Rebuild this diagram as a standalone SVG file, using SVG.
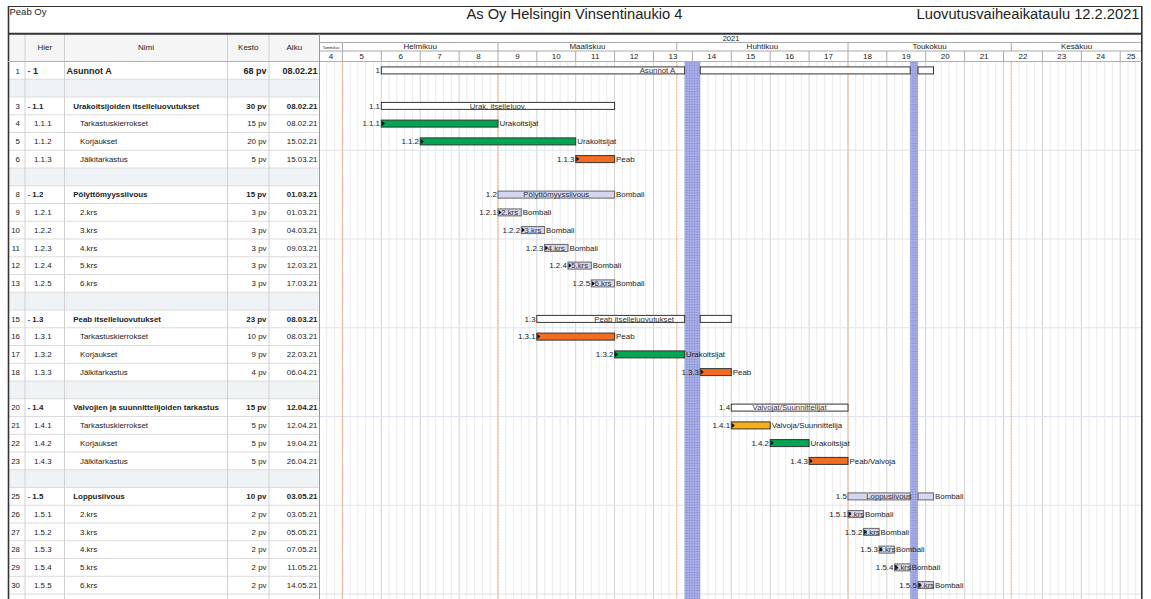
<svg xmlns="http://www.w3.org/2000/svg" width="1151" height="599" viewBox="0 0 1151 599">
<defs>
<pattern id="hol" patternUnits="userSpaceOnUse" width="2.6" height="2.6">
<rect width="2.6" height="2.6" fill="#b1b7ea"/>
<path d="M0 0.5H2.6M0.5 0V2.6" stroke="#8c95db" stroke-width="0.8"/>
</pattern>
<style>
text{font-family:"Liberation Sans",Arial,sans-serif;fill:#222}
.t{font-size:7.9px}
.tb{font-size:7.9px;font-weight:bold}
.t1{font-size:9px;font-weight:bold}
.e{text-anchor:end}
.m{text-anchor:middle}
.in{font-size:7.8px;fill:#333;text-anchor:middle}
.hd{font-size:8px;text-anchor:middle}
.sum{fill:#fff;stroke:#333;stroke-width:1}
.lav{fill:#d4d7ee;stroke:#666;stroke-width:1}
.grn{fill:#00a651;stroke:#333;stroke-width:1}
.org{fill:#f26d21;stroke:#333;stroke-width:1}
.yel{fill:#f8b019;stroke:#333;stroke-width:1}
.tri{fill:#111}
.dash{fill:#2a4fd0}
</style>
</defs>
<rect width="1151" height="599" fill="#fff"/>

<!-- title -->
<g id="title">
<text x="9.5" y="15" style="font-size:9.5px">Peab Oy</text>
<text x="574.5" y="19" class="m" style="font-size:14.7px">As Oy Helsingin Vinsentinaukio 4</text>
<text x="1139.5" y="19" class="e" style="font-size:14.7px">Luovutusvaiheaikataulu 12.2.2021</text>
</g>

<!-- table background -->
<g id="table-grid">
<rect x="8" y="34" width="311.5" height="27.5" fill="#f5f5f5"/>
<g fill="#f0f3f6">
<rect x="8" y="79.25" width="311.5" height="17.75"/>
<rect x="8" y="168" width="311.5" height="17.75"/>
<rect x="8" y="292.25" width="311.5" height="17.75"/>
<rect x="8" y="381" width="311.5" height="17.75"/>
<rect x="8" y="469.75" width="311.5" height="17.75"/>
</g>
<path d="M8 79.25H319.5M8 97H319.5M8 114.75H319.5M8 132.5H319.5M8 150.25H319.5M8 168H319.5M8 185.75H319.5M8 203.5H319.5M8 221.25H319.5M8 239H319.5M8 256.75H319.5M8 274.5H319.5M8 292.25H319.5M8 310H319.5M8 327.75H319.5M8 345.5H319.5M8 363.25H319.5M8 381H319.5M8 398.75H319.5M8 416.5H319.5M8 434.25H319.5M8 452H319.5M8 469.75H319.5M8 487.5H319.5M8 505.25H319.5M8 523H319.5M8 540.75H319.5M8 558.5H319.5M8 576.25H319.5M8 594H319.5" stroke="#dcdcdc" stroke-width="1" fill="none"/>
<path d="M25 34V599M64.5 34V599M227.5 34V599M269 34V599" stroke="#d0d0d0" stroke-width="1" fill="none"/>
<text x="44.8" y="49.5" class="hd">Hier</text>
<text x="146" y="49.5" class="hd">Nimi</text>
<text x="248.3" y="49.5" class="hd">Kesto</text>
<text x="294.3" y="49.5" class="hd">Alku</text>
</g>

<!-- chart grid -->
<g id="chart-grid">
<path d="M326.8 61.5v538M334.6 61.5v538M350.2 61.5v538M358 61.5v538M365.7 61.5v538M373.5 61.5v538M389.1 61.5v538M396.8 61.5v538M404.6 61.5v538M412.4 61.5v538M428 61.5v538M435.7 61.5v538M443.5 61.5v538M451.3 61.5v538M466.8 61.5v538M474.6 61.5v538M482.4 61.5v538M490.2 61.5v538M505.7 61.5v538M513.5 61.5v538M521.3 61.5v538M529.1 61.5v538M544.6 61.5v538M552.4 61.5v538M560.2 61.5v538M568 61.5v538M583.5 61.5v538M591.3 61.5v538M599.1 61.5v538M606.8 61.5v538M622.4 61.5v538M630.2 61.5v538M638 61.5v538M645.7 61.5v538M661.3 61.5v538M669.1 61.5v538M676.8 61.5v538M684.6 61.5v538M700.2 61.5v538M708 61.5v538M715.7 61.5v538M723.5 61.5v538M739.1 61.5v538M746.8 61.5v538M754.6 61.5v538M762.4 61.5v538M778 61.5v538M785.7 61.5v538M793.5 61.5v538M801.3 61.5v538M816.8 61.5v538M824.6 61.5v538M832.4 61.5v538M840.2 61.5v538M855.7 61.5v538M863.5 61.5v538M871.3 61.5v538M879.1 61.5v538M894.6 61.5v538M902.4 61.5v538M910.2 61.5v538M918 61.5v538M933.5 61.5v538M941.3 61.5v538M949.1 61.5v538M956.8 61.5v538M972.4 61.5v538M980.2 61.5v538M988 61.5v538M995.7 61.5v538M1011.3 61.5v538M1019.1 61.5v538M1026.8 61.5v538M1034.6 61.5v538M1050.2 61.5v538M1058 61.5v538M1065.7 61.5v538M1073.5 61.5v538M1089.1 61.5v538M1096.8 61.5v538M1104.6 61.5v538M1112.4 61.5v538M1128 61.5v538M1135.7 61.5v538" stroke="#ebebeb" stroke-width="1" fill="none"/>
<path d="M342.4 61.5v538M381.3 61.5v538M420.2 61.5v538M459.1 61.5v538M498 61.5v538M536.8 61.5v538M575.7 61.5v538M614.6 61.5v538M653.5 61.5v538M692.4 61.5v538M731.3 61.5v538M770.2 61.5v538M809.1 61.5v538M848 61.5v538M886.8 61.5v538M925.7 61.5v538M964.6 61.5v538M1003.5 61.5v538M1042.4 61.5v538M1081.3 61.5v538M1120.2 61.5v538" stroke="#d2d2d2" stroke-width="1" fill="none"/>
<path d="M320 150.25H1141M320 239H1141M320 327.75H1141M320 416.5H1141M320 505.25H1141M320 594H1141" stroke="#dfe3ed" stroke-width="1.2" fill="none"/>
<path d="M342.4 61.5V599M498 61.5V599M676.8 61.5V599M848 61.5V599M1011.3 61.5V599" stroke="#f4aa78" stroke-width="1" stroke-dasharray="2 1" fill="none"/>
<rect x="684.6" y="61.5" width="15.6" height="537.5" fill="url(#hol)"/>
<rect x="910.2" y="61.5" width="7.8" height="537.5" fill="url(#hol)"/>
</g>

<!-- chart header -->
<g id="chart-header">
<path d="M319.5 42.5H1142M319.5 51H1142" stroke="#aaa" stroke-width="1" fill="none"/>
<path d="M342.4 42.5V51M498 42.5V51M676.8 42.5V51M848 42.5V51M1011.3 42.5V51" stroke="#aaa" stroke-width="1" fill="none"/>
<path d="M342.4 51V61.5M381.3 51V61.5M420.2 51V61.5M459.1 51V61.5M498 51V61.5M536.8 51V61.5M575.7 51V61.5M614.6 51V61.5M653.5 51V61.5M692.4 51V61.5M731.3 51V61.5M770.2 51V61.5M809.1 51V61.5M848 51V61.5M886.8 51V61.5M925.7 51V61.5M964.6 51V61.5M1003.5 51V61.5M1042.4 51V61.5M1081.3 51V61.5M1120.2 51V61.5" stroke="#aaa" stroke-width="1" fill="none"/>
<text x="731" y="41" class="m" style="font-size:7.5px">2021</text>
<text x="331" y="48.5" class="m" style="font-size:3.6px">Tammikuu</text>
<text x="420.2" y="49.3" class="hd">Helmikuu</text>
<text x="587.4" y="49.3" class="hd">Maaliskuu</text>
<text x="762.4" y="49.3" class="hd">Huhtikuu</text>
<text x="929.6" y="49.3" class="hd">Toukokuu</text>
<text x="1076.6" y="49.3" class="hd">Kesäkuu</text>
<text x="331" y="59" class="hd">4</text>
<text x="361.8" y="59" class="hd">5</text>
<text x="400.7" y="59" class="hd">6</text>
<text x="439.6" y="59" class="hd">7</text>
<text x="478.5" y="59" class="hd">8</text>
<text x="517.4" y="59" class="hd">9</text>
<text x="556.3" y="59" class="hd">10</text>
<text x="595.2" y="59" class="hd">11</text>
<text x="634.1" y="59" class="hd">12</text>
<text x="673" y="59" class="hd">13</text>
<text x="711.8" y="59" class="hd">14</text>
<text x="750.7" y="59" class="hd">15</text>
<text x="789.6" y="59" class="hd">16</text>
<text x="828.5" y="59" class="hd">17</text>
<text x="867.4" y="59" class="hd">18</text>
<text x="906.3" y="59" class="hd">19</text>
<text x="945.2" y="59" class="hd">20</text>
<text x="984.1" y="59" class="hd">21</text>
<text x="1023" y="59" class="hd">22</text>
<text x="1061.8" y="59" class="hd">23</text>
<text x="1100.7" y="59" class="hd">24</text>
<text x="1131.1" y="59" class="hd">25</text>
</g>

<!-- frame -->
<g id="frame" fill="none" stroke="#333">
<path d="M8 6.5H1142" stroke-width="1.2"/>
<path d="M8 33.8H1142" stroke-width="2"/>
<path d="M8.5 6V599M1141.8 6V599" stroke-width="1.6"/>
<path d="M8 61.5H1142" stroke="#b0b0b0" stroke-width="1"/>
<path d="M319.5 34V599" stroke="#9a9a9a" stroke-width="1"/>
</g>

<!-- tasks -->
<g id="task-1">
<text x="20" y="73.6" class="t e">1</text>
<text x="27.5" y="73.6" class="t1"><tspan class="dash">-</tspan> 1</text>
<text x="66.5" y="73.6" class="t1">Asunnot A</text>
<text x="266.5" y="73.6" class="t1 e">68 pv</text>
<text x="317.5" y="73.6" class="t1 e">08.02.21</text>
<rect x="381.3" y="66.9" width="303.3" height="7" class="sum"/>
<rect x="700.2" y="66.9" width="210" height="7" class="sum"/>
<rect x="918" y="66.9" width="15.5" height="7" class="sum"/>
<text x="380" y="73.1" class="t e">1</text>
<text x="657.4" y="73.1" class="in">Asunnot A</text>
</g>

<g id="task-1-1">
<text x="20" y="108.7" class="t e">3</text>
<text x="27.5" y="108.7" class="tb"><tspan class="dash">-</tspan> 1.1</text>
<text x="73.3" y="108.7" class="tb">Urakoitsijoiden itselleluovutukset</text>
<text x="266.5" y="108.7" class="tb e">30 pv</text>
<text x="317.5" y="108.7" class="tb e">08.02.21</text>
<rect x="381.3" y="102.4" width="233.3" height="7" class="sum"/>
<text x="380" y="108.6" class="t e">1.1</text>
<text x="498" y="108.6" class="in">Urak. itselleluov.</text>
</g>

<g id="task-1-1-1">
<text x="20" y="126.4" class="t e">4</text>
<text x="34" y="126.4" class="t">1.1.1</text>
<text x="80" y="126.4" class="t">Tarkastuskierrokset</text>
<text x="266.5" y="126.4" class="t e">15 pv</text>
<text x="317.5" y="126.4" class="t e">08.02.21</text>
<rect x="381.3" y="120.1" width="116.7" height="7" class="grn"/>
<text x="380" y="126.3" class="t e">1.1.1</text>
<text x="499.5" y="126.3" class="t">Urakoitsijat</text>
</g>

<g id="task-1-1-2">
<text x="20" y="144.2" class="t e">5</text>
<text x="34" y="144.2" class="t">1.1.2</text>
<text x="80" y="144.2" class="t">Korjaukset</text>
<text x="266.5" y="144.2" class="t e">20 pv</text>
<text x="317.5" y="144.2" class="t e">15.02.21</text>
<rect x="420.2" y="137.9" width="155.5" height="7" class="grn"/>
<text x="419" y="144.1" class="t e">1.1.2</text>
<text x="577.2" y="144.1" class="t">Urakoitsijat</text>
</g>

<g id="task-1-1-3">
<text x="20" y="161.9" class="t e">6</text>
<text x="34" y="161.9" class="t">1.1.3</text>
<text x="80" y="161.9" class="t">Jälkitarkastus</text>
<text x="266.5" y="161.9" class="t e">5 pv</text>
<text x="317.5" y="161.9" class="t e">15.03.21</text>
<rect x="575.7" y="155.6" width="38.9" height="7" class="org"/>
<text x="574.5" y="161.8" class="t e">1.1.3</text>
<text x="616.1" y="161.8" class="t">Peab</text>
</g>

<g id="task-1-2">
<text x="20" y="197.4" class="t e">8</text>
<text x="27.5" y="197.4" class="tb"><tspan class="dash">-</tspan> 1.2</text>
<text x="73.3" y="197.4" class="tb">Pölyttömyyssiivous</text>
<text x="266.5" y="197.4" class="tb e">15 pv</text>
<text x="317.5" y="197.4" class="tb e">01.03.21</text>
<rect x="498" y="191.1" width="116.6" height="7" class="lav"/>
<text x="496.8" y="197.3" class="t e">1.2</text>
<text x="556.3" y="197.3" class="in">Pölyttömyyssiivous</text>
<text x="616.1" y="197.3" class="t">Bombali</text>
</g>

<g id="task-1-2-1">
<text x="20" y="215.2" class="t e">9</text>
<text x="34" y="215.2" class="t">1.2.1</text>
<text x="80" y="215.2" class="t">2.krs</text>
<text x="266.5" y="215.2" class="t e">3 pv</text>
<text x="317.5" y="215.2" class="t e">01.03.21</text>
<rect x="498" y="208.9" width="23.3" height="7" class="lav"/>
<text x="496.8" y="215.1" class="t e">1.2.1</text>
<text x="509.6" y="215.1" class="in">2.krs</text>
<text x="522.8" y="215.1" class="t">Bombali</text>
</g>

<g id="task-1-2-2">
<text x="20" y="232.9" class="t e">10</text>
<text x="34" y="232.9" class="t">1.2.2</text>
<text x="80" y="232.9" class="t">3.krs</text>
<text x="266.5" y="232.9" class="t e">3 pv</text>
<text x="317.5" y="232.9" class="t e">04.03.21</text>
<rect x="521.3" y="226.6" width="23.3" height="7" class="lav"/>
<text x="520.1" y="232.8" class="t e">1.2.2</text>
<text x="533" y="232.8" class="in">3.krs</text>
<text x="546.1" y="232.8" class="t">Bombali</text>
</g>

<g id="task-1-2-3">
<text x="20" y="250.7" class="t e">11</text>
<text x="34" y="250.7" class="t">1.2.3</text>
<text x="80" y="250.7" class="t">4.krs</text>
<text x="266.5" y="250.7" class="t e">3 pv</text>
<text x="317.5" y="250.7" class="t e">09.03.21</text>
<rect x="544.6" y="244.4" width="23.4" height="7" class="lav"/>
<text x="543.4" y="250.6" class="t e">1.2.3</text>
<text x="556.3" y="250.6" class="in">4.krs</text>
<text x="569.5" y="250.6" class="t">Bombali</text>
</g>

<g id="task-1-2-4">
<text x="20" y="268.4" class="t e">12</text>
<text x="34" y="268.4" class="t">1.2.4</text>
<text x="80" y="268.4" class="t">5.krs</text>
<text x="266.5" y="268.4" class="t e">3 pv</text>
<text x="317.5" y="268.4" class="t e">12.03.21</text>
<rect x="568" y="262.1" width="23.3" height="7" class="lav"/>
<text x="566.8" y="268.3" class="t e">1.2.4</text>
<text x="579.6" y="268.3" class="in">5.krs</text>
<text x="592.8" y="268.3" class="t">Bombali</text>
</g>

<g id="task-1-2-5">
<text x="20" y="286.2" class="t e">13</text>
<text x="34" y="286.2" class="t">1.2.5</text>
<text x="80" y="286.2" class="t">6.krs</text>
<text x="266.5" y="286.2" class="t e">3 pv</text>
<text x="317.5" y="286.2" class="t e">17.03.21</text>
<rect x="591.3" y="279.9" width="23.3" height="7" class="lav"/>
<text x="590.1" y="286.1" class="t e">1.2.5</text>
<text x="603" y="286.1" class="in">6.krs</text>
<text x="616.1" y="286.1" class="t">Bombali</text>
</g>

<g id="task-1-3">
<text x="20" y="321.7" class="t e">15</text>
<text x="27.5" y="321.7" class="tb"><tspan class="dash">-</tspan> 1.3</text>
<text x="73.3" y="321.7" class="tb">Peab itselleluovutukset</text>
<text x="266.5" y="321.7" class="tb e">23 pv</text>
<text x="317.5" y="321.7" class="tb e">08.03.21</text>
<rect x="536.8" y="315.4" width="147.8" height="7" class="sum"/>
<rect x="700.2" y="315.4" width="31.1" height="7" class="sum"/>
<text x="535.6" y="321.6" class="t e">1.3</text>
<text x="634.1" y="321.6" class="in">Peab itselleluovutukset</text>
</g>

<g id="task-1-3-1">
<text x="20" y="339.4" class="t e">16</text>
<text x="34" y="339.4" class="t">1.3.1</text>
<text x="80" y="339.4" class="t">Tarkastuskierrokset</text>
<text x="266.5" y="339.4" class="t e">10 pv</text>
<text x="317.5" y="339.4" class="t e">08.03.21</text>
<rect x="536.8" y="333.1" width="77.8" height="7" class="org"/>
<text x="535.6" y="339.3" class="t e">1.3.1</text>
<text x="616.1" y="339.3" class="t">Peab</text>
</g>

<g id="task-1-3-2">
<text x="20" y="357.2" class="t e">17</text>
<text x="34" y="357.2" class="t">1.3.2</text>
<text x="80" y="357.2" class="t">Korjaukset</text>
<text x="266.5" y="357.2" class="t e">9 pv</text>
<text x="317.5" y="357.2" class="t e">22.03.21</text>
<rect x="614.6" y="350.9" width="70" height="7" class="grn"/>
<text x="613.4" y="357.1" class="t e">1.3.2</text>
<text x="686" y="357.1" class="t">Urakoitsijat</text>
</g>

<g id="task-1-3-3">
<text x="20" y="374.9" class="t e">18</text>
<text x="34" y="374.9" class="t">1.3.3</text>
<text x="80" y="374.9" class="t">Jälkitarkastus</text>
<text x="266.5" y="374.9" class="t e">4 pv</text>
<text x="317.5" y="374.9" class="t e">06.04.21</text>
<rect x="700.2" y="368.6" width="31.1" height="7" class="org"/>
<text x="699" y="374.8" class="t e">1.3.3</text>
<text x="732.8" y="374.8" class="t">Peab</text>
</g>

<g id="task-1-4">
<text x="20" y="410.4" class="t e">20</text>
<text x="27.5" y="410.4" class="tb"><tspan class="dash">-</tspan> 1.4</text>
<text x="73.3" y="410.4" class="tb">Valvojien ja suunnittelijoiden tarkastus</text>
<text x="266.5" y="410.4" class="tb e">15 pv</text>
<text x="317.5" y="410.4" class="tb e">12.04.21</text>
<rect x="731.3" y="404.1" width="116.7" height="7" class="sum"/>
<text x="730.1" y="410.3" class="t e">1.4</text>
<text x="789.6" y="410.3" class="in">Valvojat/Suunnittelijat</text>
</g>

<g id="task-1-4-1">
<text x="20" y="428.2" class="t e">21</text>
<text x="34" y="428.2" class="t">1.4.1</text>
<text x="80" y="428.2" class="t">Tarkastuskierrokset</text>
<text x="266.5" y="428.2" class="t e">5 pv</text>
<text x="317.5" y="428.2" class="t e">12.04.21</text>
<rect x="731.3" y="421.9" width="38.9" height="7" class="yel"/>
<text x="730.1" y="428.1" class="t e">1.4.1</text>
<text x="771.7" y="428.1" class="t">Valvoja/Suunnittelija</text>
</g>

<g id="task-1-4-2">
<text x="20" y="445.9" class="t e">22</text>
<text x="34" y="445.9" class="t">1.4.2</text>
<text x="80" y="445.9" class="t">Korjaukset</text>
<text x="266.5" y="445.9" class="t e">5 pv</text>
<text x="317.5" y="445.9" class="t e">19.04.21</text>
<rect x="770.2" y="439.6" width="38.9" height="7" class="grn"/>
<text x="769" y="445.8" class="t e">1.4.2</text>
<text x="810.6" y="445.8" class="t">Urakoitsijat</text>
</g>

<g id="task-1-4-3">
<text x="20" y="463.7" class="t e">23</text>
<text x="34" y="463.7" class="t">1.4.3</text>
<text x="80" y="463.7" class="t">Jälkitarkastus</text>
<text x="266.5" y="463.7" class="t e">5 pv</text>
<text x="317.5" y="463.7" class="t e">26.04.21</text>
<rect x="809.1" y="457.4" width="38.9" height="7" class="org"/>
<text x="807.9" y="463.6" class="t e">1.4.3</text>
<text x="849.5" y="463.6" class="t">Peab/Valvoja</text>
</g>

<g id="task-1-5">
<text x="20" y="499.2" class="t e">25</text>
<text x="27.5" y="499.2" class="tb"><tspan class="dash">-</tspan> 1.5</text>
<text x="73.3" y="499.2" class="tb">Loppusiivous</text>
<text x="266.5" y="499.2" class="tb e">10 pv</text>
<text x="317.5" y="499.2" class="tb e">03.05.21</text>
<rect x="848" y="492.9" width="62.2" height="7" class="lav"/>
<rect x="918" y="492.9" width="15.5" height="7" class="lav"/>
<text x="846.8" y="499.1" class="t e">1.5</text>
<text x="889" y="499.1" class="in">Loppusiivous</text>
<text x="935" y="499.1" class="t">Bombali</text>
</g>

<g id="task-1-5-1">
<text x="20" y="516.9" class="t e">26</text>
<text x="34" y="516.9" class="t">1.5.1</text>
<text x="80" y="516.9" class="t">2.krs</text>
<text x="266.5" y="516.9" class="t e">2 pv</text>
<text x="317.5" y="516.9" class="t e">03.05.21</text>
<rect x="848" y="510.6" width="15.5" height="7" class="lav"/>
<text x="846.8" y="516.8" class="t e">1.5.1</text>
<text x="855.8" y="516.8" class="in">2.krs</text>
<text x="865" y="516.8" class="t">Bombali</text>
</g>

<g id="task-1-5-2">
<text x="20" y="534.7" class="t e">27</text>
<text x="34" y="534.7" class="t">1.5.2</text>
<text x="80" y="534.7" class="t">3.krs</text>
<text x="266.5" y="534.7" class="t e">2 pv</text>
<text x="317.5" y="534.7" class="t e">05.05.21</text>
<rect x="863.5" y="528.4" width="15.6" height="7" class="lav"/>
<text x="862.3" y="534.6" class="t e">1.5.2</text>
<text x="871.3" y="534.6" class="in">3.krs</text>
<text x="880.6" y="534.6" class="t">Bombali</text>
</g>

<g id="task-1-5-3">
<text x="20" y="552.4" class="t e">28</text>
<text x="34" y="552.4" class="t">1.5.3</text>
<text x="80" y="552.4" class="t">4.krs</text>
<text x="266.5" y="552.4" class="t e">2 pv</text>
<text x="317.5" y="552.4" class="t e">07.05.21</text>
<rect x="879.1" y="546.1" width="15.5" height="7" class="lav"/>
<text x="877.9" y="552.3" class="t e">1.5.3</text>
<text x="886.9" y="552.3" class="in">4.krs</text>
<text x="896.1" y="552.3" class="t">Bombali</text>
</g>

<g id="task-1-5-4">
<text x="20" y="570.2" class="t e">29</text>
<text x="34" y="570.2" class="t">1.5.4</text>
<text x="80" y="570.2" class="t">5.krs</text>
<text x="266.5" y="570.2" class="t e">2 pv</text>
<text x="317.5" y="570.2" class="t e">11.05.21</text>
<rect x="894.6" y="563.9" width="15.6" height="7" class="lav"/>
<text x="893.4" y="570.1" class="t e">1.5.4</text>
<text x="902.4" y="570.1" class="in">5.krs</text>
<text x="911.7" y="570.1" class="t">Bombali</text>
</g>

<g id="task-1-5-5">
<text x="20" y="587.9" class="t e">30</text>
<text x="34" y="587.9" class="t">1.5.5</text>
<text x="80" y="587.9" class="t">6.krs</text>
<text x="266.5" y="587.9" class="t e">2 pv</text>
<text x="317.5" y="587.9" class="t e">14.05.21</text>
<rect x="918" y="581.6" width="15.5" height="7" class="lav"/>
<text x="916.8" y="587.8" class="t e">1.5.5</text>
<text x="925.8" y="587.8" class="in">6.krs</text>
<text x="935" y="587.8" class="t">Bombali</text>
</g>

<!-- connectors: link arrowheads at task starts -->
<g id="connectors" class="tri">
<polygon points="381.9,121.1 384.9,123.6 381.9,126.1"/>
<polygon points="420.8,138.9 423.8,141.4 420.8,143.9"/>
<polygon points="576.3,156.6 579.3,159.1 576.3,161.6"/>
<polygon points="498.6,209.9 501.6,212.4 498.6,214.9"/>
<polygon points="521.9,227.6 524.9,230.1 521.9,232.6"/>
<polygon points="545.2,245.4 548.2,247.9 545.2,250.4"/>
<polygon points="568.6,263.1 571.6,265.6 568.6,268.1"/>
<polygon points="591.9,280.9 594.9,283.4 591.9,285.9"/>
<polygon points="537.4,334.1 540.4,336.6 537.4,339.1"/>
<polygon points="615.2,351.9 618.2,354.4 615.2,356.9"/>
<polygon points="700.8,369.6 703.8,372.1 700.8,374.6"/>
<polygon points="731.9,422.9 734.9,425.4 731.9,427.9"/>
<polygon points="770.8,440.6 773.8,443.1 770.8,445.6"/>
<polygon points="809.7,458.4 812.7,460.9 809.7,463.4"/>
<polygon points="848.6,511.6 851.6,514.1 848.6,516.6"/>
<polygon points="864.1,529.4 867.1,531.9 864.1,534.4"/>
<polygon points="879.7,547.1 882.7,549.6 879.7,552.1"/>
<polygon points="895.2,564.9 898.2,567.4 895.2,569.9"/>
<polygon points="918.6,582.6 921.6,585.1 918.6,587.6"/>
</g>
</svg>
